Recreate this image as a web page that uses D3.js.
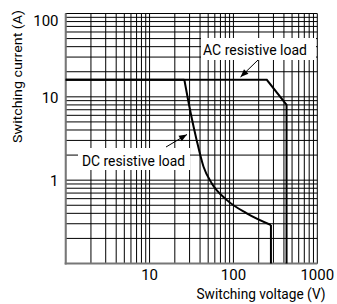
<!DOCTYPE html>
<html><head><meta charset="utf-8">
<script src="https://cdn.jsdelivr.net/npm/d3@7"></script>
<style>
html,body{margin:0;padding:0;background:#fff;}
svg{display:block;font-family:Roboto,"Noto Sans",sans-serif;}
</style></head>
<body><div id="chart"></div>
<script>
const xTicks = [10, 100, 1000];
const yTicks = [1, 10, 100];
const xLabel = "Switching voltage (V)";
const yLabel = "Switching current (A)";
// AC resistive load boundary (V, A)
const acVoltage = [1, 250, 430, 430];
const acCurrent = [16, 16, 8, 0.1];
// DC resistive load: flat part, curved part, vertical cut-off
const dcFlatVoltage = [1, 26];
const dcFlatCurrent = [16, 16];
const dcCurveVoltage = [26, 31, 36.5, 44, 55, 83, 144, 280];
const dcCurveCurrent = [16, 6.3, 3.0, 1.45, 0.92, 0.58, 0.4, 0.29];
const dcCutVoltage = [280, 280];
const dcCutCurrent = [0.29, 0.1];

const W = 337, H = 304;
const svg = d3.select("#chart").append("svg").attr("width", W).attr("height", H);
const x = d3.scaleLog().domain([1, 1000]).range([65.7, 317.3]);
const y = d3.scaleLog().domain([0.1, 100]).range([263.5, 13.5]);

// grid
const xGrid = [];
for (let d = 1; d < 1000; d *= 10) for (let k = 1; k <= 9; k++) xGrid.push(d * k);
xGrid.push(1000);
const yGrid = [];
for (let d = 0.1; d < 99; d *= 10) for (let k = 1; k <= 9; k++) yGrid.push(+(d * k).toPrecision(3));
yGrid.push(100);

const g = svg.append("g");
g.selectAll("line.vx").data(xGrid).join("line")
  .attr("x1", d => x(d)).attr("x2", d => x(d))
  .attr("y1", y(100)).attr("y2", y(0.1))
  .attr("stroke", "#000").attr("stroke-width", 1);
g.selectAll("line.hy").data(yGrid).join("line")
  .attr("y1", d => y(d)).attr("y2", d => y(d))
  .attr("x1", x(1)).attr("x2", x(1000))
  .attr("stroke", "#000").attr("stroke-width", 1);
// axis lines
g.append("line").attr("x1", x(1)).attr("x2", x(1)).attr("y1", y(100)).attr("y2", y(0.1)+1)
  .attr("stroke", "#777").attr("stroke-width", 2);
g.append("line").attr("x1", x(1)-1).attr("x2", x(1000)).attr("y1", y(0.1)).attr("y2", y(0.1))
  .attr("stroke", "#777").attr("stroke-width", 2);

// label boxes
function labelBox(bx, by, bw, bh, text, tx, ty, tlen) {
  svg.append("rect").attr("x", bx).attr("y", by).attr("width", bw).attr("height", bh).attr("fill", "#fff");
  svg.append("text").attr("x", tx).attr("y", ty).attr("font-size", 15)
    .attr("textLength", tlen).attr("lengthAdjust", "spacingAndGlyphs")
    .attr("fill", "#000").text(text);
}
labelBox(201, 38, 115, 22, "AC resistive load", 203, 55, 104);
labelBox(78, 148, 112, 22, "DC resistive load", 82, 166, 103);

// curves
const lin = d3.line().x(d => x(d[0])).y(d => y(d[1]));
const curved = d3.line().x(d => x(d[0])).y(d => y(d[1])).curve(d3.curveMonotoneX);
const zip = (a, b) => a.map((v, i) => [v, b[i]]);
function draw(path) {
  svg.append("path").attr("d", path).attr("fill", "none").attr("stroke", "#000")
    .attr("stroke-width", 2).attr("stroke-linejoin", "miter");
}
draw(lin(zip(acVoltage, acCurrent)));
draw(lin(zip(dcFlatVoltage, dcFlatCurrent)));
draw(curved(zip(dcCurveVoltage, dcCurveCurrent)));
draw(lin(zip(dcCutVoltage, dcCutCurrent)));

// arrows
function arrow(x1, y1, x2, y2) {
  svg.append("line").attr("x1", x1).attr("y1", y1).attr("x2", x2).attr("y2", y2)
    .attr("stroke", "#000").attr("stroke-width", 1);
  const a = Math.atan2(y2 - y1, x2 - x1), L = 8, w = 3.2;
  const bx = x2 - L * Math.cos(a), by = y2 - L * Math.sin(a);
  const px = -Math.sin(a) * w, py = Math.cos(a) * w;
  svg.append("path").attr("d", `M${x2},${y2}L${bx+px},${by+py}L${bx-px},${by-py}Z`).attr("fill", "#000");
}
arrow(258, 60, 240.5, 77);
arrow(166, 147, 187, 134.5);

// tick labels
svg.selectAll("text.xt").data(xTicks).join("text")
  .attr("x", d => x(d)).attr("y", 280).attr("text-anchor", "middle")
  .attr("font-size", 15).attr("fill", "#000").text(d => d);
svg.selectAll("text.yt").data(yTicks).join("text")
  .attr("x", 58.5).attr("y", d => d === 100 ? 26 : y(d) + 6).attr("text-anchor", "end")
  .attr("font-size", 15).attr("fill", "#000").text(d => d);

// axis titles
svg.append("text").attr("x", 261).attr("y", 299).attr("text-anchor", "middle")
  .attr("font-size", 14.5).attr("textLength", 129).attr("lengthAdjust", "spacingAndGlyphs")
  .attr("fill", "#000").text(xLabel);
svg.append("text").attr("transform", "translate(22,76.5) rotate(-90)").attr("text-anchor", "middle")
  .attr("font-size", 13).attr("textLength", 133).attr("lengthAdjust", "spacingAndGlyphs")
  .attr("fill", "#000").text(yLabel);
</script></body></html>
